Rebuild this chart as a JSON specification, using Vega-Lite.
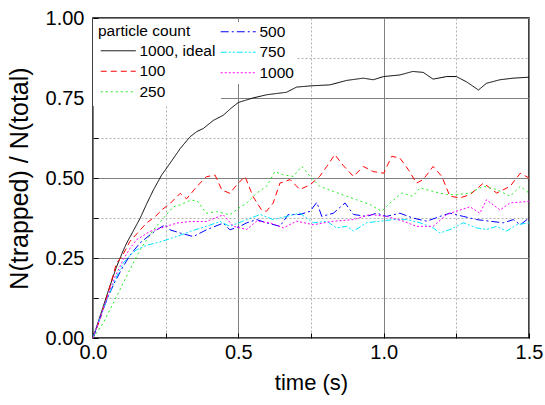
{
 "$schema": "https://vega.github.io/schema/vega-lite/v6.json",
 "width": 436, "height": 320,
 "autosize": {"type": "none"},
 "padding": {"left": 93, "top": 18, "right": 16, "bottom": 67},
 "background": "white",
 "config": {
  "font": "Liberation Sans",
  "view": {"stroke": "black", "strokeWidth": 1.5},
  "axis": {
   "domain": false, "labelFlush": false,
   "labelFont": "Liberation Sans", "labelFontSize": 20, "labelColor": "black",
   "titleFont": "Liberation Sans", "titleFontWeight": "normal", "titleColor": "black",
   "tickColor": "black", "tickSize": -5, "tickWidth": 1
  },
  "legend": {
   "orient": "none", "padding": 5, "fillColor": "white",
   "symbolType": "M-1,0H6", "symbolSize": 100, "symbolStrokeWidth": 1,
   "labelFontSize": 15.5, "titleFontSize": 15.5, "titleFontWeight": "normal",
   "labelFont": "Liberation Sans", "titleFont": "Liberation Sans",
   "labelColor": "black", "titleColor": "black",
   "labelOffset": 26, "rowPadding": 3.5, "titlePadding": 3.5
  }
 },
 "data": {"values": [
  {"t":0,"s":"1000, ideal","v":0},{"t":0.025,"s":"1000, ideal","v":0.07},{"t":0.058,"s":"1000, ideal","v":0.162},{"t":0.08,"s":"1000, ideal","v":0.22},{"t":0.1,"s":"1000, ideal","v":0.265},{"t":0.116,"s":"1000, ideal","v":0.297},{"t":0.14,"s":"1000, ideal","v":0.337},{"t":0.162,"s":"1000, ideal","v":0.374},{"t":0.185,"s":"1000, ideal","v":0.42},{"t":0.208,"s":"1000, ideal","v":0.463},{"t":0.236,"s":"1000, ideal","v":0.509},{"t":0.265,"s":"1000, ideal","v":0.546},{"t":0.3,"s":"1000, ideal","v":0.592},{"t":0.334,"s":"1000, ideal","v":0.629},{"t":0.357,"s":"1000, ideal","v":0.645},{"t":0.38,"s":"1000, ideal","v":0.655},{"t":0.414,"s":"1000, ideal","v":0.68},{"t":0.448,"s":"1000, ideal","v":0.696},{"t":0.475,"s":"1000, ideal","v":0.718},{"t":0.5,"s":"1000, ideal","v":0.736},{"t":0.55,"s":"1000, ideal","v":0.75},{"t":0.597,"s":"1000, ideal","v":0.76},{"t":0.666,"s":"1000, ideal","v":0.768},{"t":0.7,"s":"1000, ideal","v":0.784},{"t":0.75,"s":"1000, ideal","v":0.788},{"t":0.815,"s":"1000, ideal","v":0.791},{"t":0.873,"s":"1000, ideal","v":0.805},{"t":0.93,"s":"1000, ideal","v":0.812},{"t":0.964,"s":"1000, ideal","v":0.807},{"t":1.0,"s":"1000, ideal","v":0.817},{"t":1.056,"s":"1000, ideal","v":0.822},{"t":1.1,"s":"1000, ideal","v":0.833},{"t":1.136,"s":"1000, ideal","v":0.83},{"t":1.17,"s":"1000, ideal","v":0.809},{"t":1.217,"s":"1000, ideal","v":0.817},{"t":1.25,"s":"1000, ideal","v":0.817},{"t":1.286,"s":"1000, ideal","v":0.8},{"t":1.326,"s":"1000, ideal","v":0.775},{"t":1.354,"s":"1000, ideal","v":0.796},{"t":1.4,"s":"1000, ideal","v":0.807},{"t":1.446,"s":"1000, ideal","v":0.812},{"t":1.5,"s":"1000, ideal","v":0.815},

  {"t":0,"s":"100","v":0},{"t":0.025,"s":"100","v":0.06},{"t":0.05,"s":"100","v":0.135},{"t":0.081,"s":"100","v":0.234},{"t":0.1,"s":"100","v":0.255},{"t":0.127,"s":"100","v":0.302},{"t":0.155,"s":"100","v":0.33},{"t":0.185,"s":"100","v":0.36},{"t":0.215,"s":"100","v":0.38},{"t":0.236,"s":"100","v":0.4},{"t":0.265,"s":"100","v":0.42},{"t":0.3,"s":"100","v":0.452},{"t":0.322,"s":"100","v":0.435},{"t":0.357,"s":"100","v":0.473},{"t":0.39,"s":"100","v":0.504},{"t":0.42,"s":"100","v":0.509},{"t":0.443,"s":"100","v":0.463},{"t":0.471,"s":"100","v":0.452},{"t":0.494,"s":"100","v":0.478},{"t":0.523,"s":"100","v":0.505},{"t":0.55,"s":"100","v":0.443},{"t":0.58,"s":"100","v":0.4},{"t":0.597,"s":"100","v":0.396},{"t":0.62,"s":"100","v":0.422},{"t":0.643,"s":"100","v":0.484},{"t":0.678,"s":"100","v":0.495},{"t":0.712,"s":"100","v":0.464},{"t":0.747,"s":"100","v":0.479},{"t":0.78,"s":"100","v":0.505},{"t":0.804,"s":"100","v":0.536},{"t":0.832,"s":"100","v":0.573},{"t":0.86,"s":"100","v":0.54},{"t":0.896,"s":"100","v":0.505},{"t":0.93,"s":"100","v":0.536},{"t":0.964,"s":"100","v":0.52},{"t":1.0,"s":"100","v":0.515},{"t":1.028,"s":"100","v":0.568},{"t":1.056,"s":"100","v":0.562},{"t":1.085,"s":"100","v":0.526},{"t":1.113,"s":"100","v":0.484},{"t":1.136,"s":"100","v":0.495},{"t":1.17,"s":"100","v":0.536},{"t":1.2,"s":"100","v":0.505},{"t":1.228,"s":"100","v":0.443},{"t":1.263,"s":"100","v":0.438},{"t":1.297,"s":"100","v":0.448},{"t":1.343,"s":"100","v":0.484},{"t":1.389,"s":"100","v":0.453},{"t":1.435,"s":"100","v":0.474},{"t":1.47,"s":"100","v":0.515},{"t":1.5,"s":"100","v":0.5},

  {"t":0,"s":"250","v":0},{"t":0.036,"s":"250","v":0.048},{"t":0.081,"s":"250","v":0.13},{"t":0.127,"s":"250","v":0.214},{"t":0.162,"s":"250","v":0.276},{"t":0.208,"s":"250","v":0.338},{"t":0.242,"s":"250","v":0.374},{"t":0.276,"s":"250","v":0.41},{"t":0.3,"s":"250","v":0.416},{"t":0.334,"s":"250","v":0.43},{"t":0.357,"s":"250","v":0.43},{"t":0.39,"s":"250","v":0.39},{"t":0.425,"s":"250","v":0.395},{"t":0.471,"s":"250","v":0.385},{"t":0.5,"s":"250","v":0.405},{"t":0.529,"s":"250","v":0.422},{"t":0.563,"s":"250","v":0.453},{"t":0.597,"s":"250","v":0.474},{"t":0.626,"s":"250","v":0.52},{"t":0.655,"s":"250","v":0.51},{"t":0.689,"s":"250","v":0.505},{"t":0.718,"s":"250","v":0.536},{"t":0.747,"s":"250","v":0.505},{"t":0.78,"s":"250","v":0.474},{"t":0.827,"s":"250","v":0.458},{"t":0.873,"s":"250","v":0.443},{"t":0.907,"s":"250","v":0.432},{"t":0.953,"s":"250","v":0.417},{"t":0.993,"s":"250","v":0.396},{"t":1.022,"s":"250","v":0.422},{"t":1.062,"s":"250","v":0.453},{"t":1.1,"s":"250","v":0.443},{"t":1.125,"s":"250","v":0.469},{"t":1.17,"s":"250","v":0.458},{"t":1.217,"s":"250","v":0.448},{"t":1.25,"s":"250","v":0.448},{"t":1.297,"s":"250","v":0.453},{"t":1.343,"s":"250","v":0.474},{"t":1.389,"s":"250","v":0.464},{"t":1.435,"s":"250","v":0.443},{"t":1.47,"s":"250","v":0.474},{"t":1.5,"s":"250","v":0.453},

  {"t":0,"s":"500","v":0},{"t":0.025,"s":"500","v":0.065},{"t":0.05,"s":"500","v":0.125},{"t":0.075,"s":"500","v":0.175},{"t":0.104,"s":"500","v":0.224},{"t":0.13,"s":"500","v":0.262},{"t":0.162,"s":"500","v":0.297},{"t":0.19,"s":"500","v":0.318},{"t":0.219,"s":"500","v":0.338},{"t":0.248,"s":"500","v":0.354},{"t":0.265,"s":"500","v":0.338},{"t":0.3,"s":"500","v":0.328},{"t":0.345,"s":"500","v":0.317},{"t":0.39,"s":"500","v":0.338},{"t":0.448,"s":"500","v":0.359},{"t":0.471,"s":"500","v":0.338},{"t":0.506,"s":"500","v":0.349},{"t":0.529,"s":"500","v":0.36},{"t":0.563,"s":"500","v":0.37},{"t":0.597,"s":"500","v":0.36},{"t":0.643,"s":"500","v":0.349},{"t":0.672,"s":"500","v":0.386},{"t":0.712,"s":"500","v":0.386},{"t":0.747,"s":"500","v":0.396},{"t":0.77,"s":"500","v":0.424},{"t":0.787,"s":"500","v":0.38},{"t":0.827,"s":"500","v":0.39},{"t":0.867,"s":"500","v":0.422},{"t":0.896,"s":"500","v":0.386},{"t":0.941,"s":"500","v":0.38},{"t":0.976,"s":"500","v":0.39},{"t":1.01,"s":"500","v":0.38},{"t":1.056,"s":"500","v":0.39},{"t":1.1,"s":"500","v":0.375},{"t":1.148,"s":"500","v":0.365},{"t":1.194,"s":"500","v":0.38},{"t":1.228,"s":"500","v":0.39},{"t":1.274,"s":"500","v":0.38},{"t":1.32,"s":"500","v":0.37},{"t":1.365,"s":"500","v":0.365},{"t":1.412,"s":"500","v":0.36},{"t":1.446,"s":"500","v":0.37},{"t":1.47,"s":"500","v":0.354},{"t":1.5,"s":"500","v":0.375},

  {"t":0,"s":"750","v":0},{"t":0.025,"s":"750","v":0.065},{"t":0.05,"s":"750","v":0.125},{"t":0.075,"s":"750","v":0.18},{"t":0.104,"s":"750","v":0.234},{"t":0.127,"s":"750","v":0.258},{"t":0.15,"s":"750","v":0.276},{"t":0.185,"s":"750","v":0.29},{"t":0.23,"s":"750","v":0.3},{"t":0.288,"s":"750","v":0.317},{"t":0.334,"s":"750","v":0.333},{"t":0.39,"s":"750","v":0.349},{"t":0.437,"s":"750","v":0.364},{"t":0.471,"s":"750","v":0.349},{"t":0.529,"s":"750","v":0.37},{"t":0.575,"s":"750","v":0.386},{"t":0.62,"s":"750","v":0.37},{"t":0.666,"s":"750","v":0.38},{"t":0.712,"s":"750","v":0.39},{"t":0.758,"s":"750","v":0.36},{"t":0.804,"s":"750","v":0.365},{"t":0.838,"s":"750","v":0.344},{"t":0.873,"s":"750","v":0.349},{"t":0.896,"s":"750","v":0.334},{"t":0.941,"s":"750","v":0.36},{"t":0.987,"s":"750","v":0.365},{"t":1.033,"s":"750","v":0.37},{"t":1.079,"s":"750","v":0.37},{"t":1.125,"s":"750","v":0.36},{"t":1.17,"s":"750","v":0.344},{"t":1.194,"s":"750","v":0.328},{"t":1.228,"s":"750","v":0.339},{"t":1.274,"s":"750","v":0.36},{"t":1.32,"s":"750","v":0.344},{"t":1.354,"s":"750","v":0.339},{"t":1.389,"s":"750","v":0.349},{"t":1.423,"s":"750","v":0.334},{"t":1.458,"s":"750","v":0.354},{"t":1.5,"s":"750","v":0.36},

  {"t":0,"s":"1000","v":0},{"t":0.025,"s":"1000","v":0.065},{"t":0.05,"s":"1000","v":0.13},{"t":0.075,"s":"1000","v":0.19},{"t":0.104,"s":"1000","v":0.245},{"t":0.127,"s":"1000","v":0.28},{"t":0.15,"s":"1000","v":0.307},{"t":0.196,"s":"1000","v":0.333},{"t":0.253,"s":"1000","v":0.349},{"t":0.288,"s":"1000","v":0.359},{"t":0.334,"s":"1000","v":0.364},{"t":0.39,"s":"1000","v":0.364},{"t":0.448,"s":"1000","v":0.385},{"t":0.483,"s":"1000","v":0.349},{"t":0.529,"s":"1000","v":0.339},{"t":0.563,"s":"1000","v":0.365},{"t":0.61,"s":"1000","v":0.36},{"t":0.655,"s":"1000","v":0.344},{"t":0.7,"s":"1000","v":0.365},{"t":0.758,"s":"1000","v":0.354},{"t":0.827,"s":"1000","v":0.365},{"t":0.896,"s":"1000","v":0.37},{"t":0.953,"s":"1000","v":0.386},{"t":1.01,"s":"1000","v":0.38},{"t":1.068,"s":"1000","v":0.365},{"t":1.113,"s":"1000","v":0.349},{"t":1.17,"s":"1000","v":0.349},{"t":1.217,"s":"1000","v":0.386},{"t":1.263,"s":"1000","v":0.4},{"t":1.297,"s":"1000","v":0.41},{"t":1.331,"s":"1000","v":0.39},{"t":1.354,"s":"1000","v":0.432},{"t":1.4,"s":"1000","v":0.4},{"t":1.435,"s":"1000","v":0.422},{"t":1.5,"s":"1000","v":0.427}
 ]},
 "encoding": {
  "x": {"field": "t", "type": "quantitative",
   "scale": {"domain": [0, 1.5], "nice": false, "zero": false},
   "axis": {"title": "time (s)", "titleFontSize": 22, "titlePadding": 10, "labelPadding": 9,
    "values": [0, 0.25, 0.5, 0.75, 1.0, 1.25, 1.5],
    "labelExpr": "datum.value % 0.5 == 0 ? format(datum.value, '.1f') : ''",
    "gridDash": {"condition": {"test": "datum.value % 0.5 != 0", "value": [2, 2]}, "value": []},
    "gridColor": {"condition": {"test": "datum.value % 0.5 != 0", "value": "#b0b0b0"}, "value": "#808080"},
    "gridOpacity": 1, "gridWidth": 1}},
  "y": {"field": "v", "type": "quantitative",
   "scale": {"domain": [0, 1], "nice": false},
   "axis": {"title": "N(trapped) / N(total)", "titleFontSize": 25, "titlePadding": 13, "labelPadding": 14,
    "values": [0, 0.125, 0.25, 0.375, 0.5, 0.625, 0.75, 0.875, 1.0],
    "labelExpr": "datum.value % 0.25 == 0 ? format(datum.value, '.2f') : ''",
    "gridDash": {"condition": {"test": "datum.value % 0.25 != 0", "value": [2, 2]}, "value": []},
    "gridColor": {"condition": {"test": "datum.value % 0.25 != 0", "value": "#b0b0b0"}, "value": "#808080"},
    "gridOpacity": 1, "gridWidth": 1}}
 },
 "layer": [
  {"transform": [{"filter": {"field": "s", "oneOf": ["1000, ideal", "100", "250"]}}],
   "mark": {"type": "line", "strokeWidth": 1, "clip": true},
   "encoding": {
    "color": {"field": "s", "type": "nominal",
     "scale": {"domain": ["1000, ideal", "100", "250"], "range": ["#000000", "#ff0000", "#22ee22"]},
     "legend": {"title": "particle count", "legendX": 0, "legendY": 1}},
    "strokeDash": {"field": "s", "type": "nominal",
     "scale": {"domain": ["1000, ideal", "100", "250"], "range": [[1, 0], [6, 4], [2, 3]]},
     "legend": {"title": "particle count", "legendX": 0, "legendY": 1}}
   }},
  {"transform": [{"filter": {"field": "s", "oneOf": ["500", "750", "1000"]}}],
   "mark": {"type": "line", "strokeWidth": 1, "clip": true},
   "encoding": {
    "color": {"field": "s", "type": "nominal",
     "scale": {"domain": ["500", "750", "1000"], "range": ["#0000ff", "#00e5ff", "#ff00ff"]},
     "legend": {"title": null, "legendX": 123, "legendY": 4, "padding": 2}},
    "strokeDash": {"field": "s", "type": "nominal",
     "scale": {"domain": ["500", "750", "1000"], "range": [[8, 3, 2, 3], [6, 2, 2, 2, 2, 2], [2, 2]]},
     "legend": {"title": null, "legendX": 123, "legendY": 4, "padding": 2}}
   }}
 ],
 "resolve": {"scale": {"color": "independent", "strokeDash": "independent"}}
}
